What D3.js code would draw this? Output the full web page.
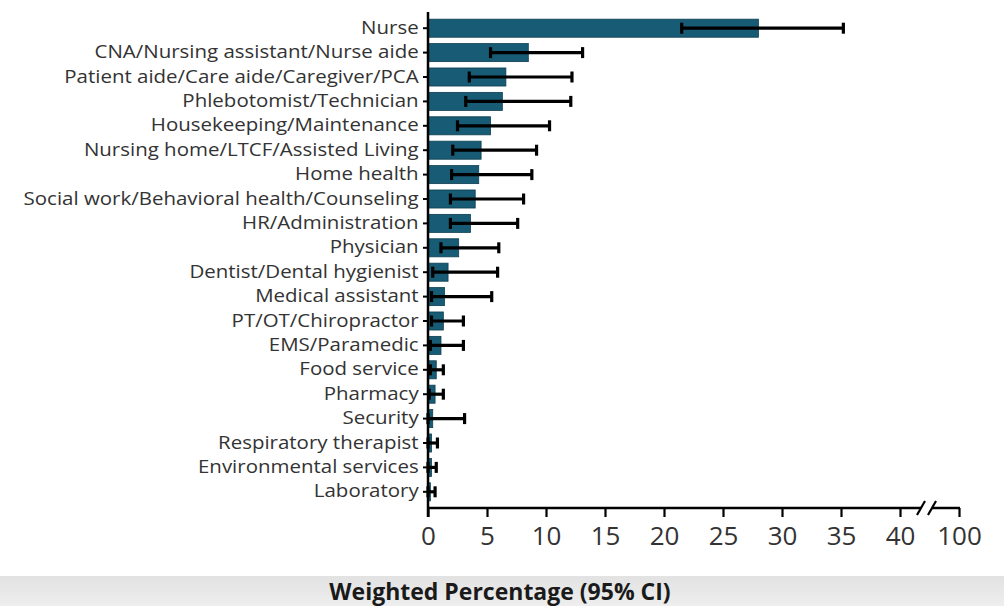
<!DOCTYPE html>
<html>
<head>
<meta charset="utf-8">
<script src="https://cdn.jsdelivr.net/npm/d3@7"></script>
<style>
  body { margin: 0; background: #fff; }
  svg { display: block; }
  text { font-family: "Open Sans", "DejaVu Sans", sans-serif; }
</style>
</head>
<body>
<svg width="1004" height="606"></svg>
<script>
// occupations, weighted percentage and 95% CI
const categories = [
    "Nurse", "CNA/Nursing assistant/Nurse aide", "Patient aide/Care aide/Caregiver/PCA",
    "Phlebotomist/Technician", "Housekeeping/Maintenance", "Nursing home/LTCF/Assisted Living",
    "Home health", "Social work/Behavioral health/Counseling", "HR/Administration", "Physician",
    "Dentist/Dental hygienist", "Medical assistant", "PT/OT/Chiropractor", "EMS/Paramedic",
    "Food service", "Pharmacy", "Security", "Respiratory therapist", "Environmental services",
    "Laboratory"
];
const values = [28.0, 8.5, 6.6, 6.3, 5.3, 4.5, 4.3, 4.0, 3.6, 2.6, 1.7, 1.4, 1.3, 1.1, 0.7, 0.6, 0.4, 0.3, 0.3, 0.2];
const ciLow  = [21.5, 5.3, 3.5, 3.2, 2.5, 2.1, 2.0, 1.9, 1.9, 1.1, 0.4, 0.3, 0.3, 0.2, 0.2, 0.1, 0.0, 0.0, 0.0, 0.0];
const ciHigh = [35.2, 13.1, 12.2, 12.1, 10.3, 9.2, 8.8, 8.1, 7.6, 6.0, 5.9, 5.4, 3.0, 3.0, 1.3, 1.3, 3.1, 0.8, 0.7, 0.6];
const xTicks = [0, 5, 10, 15, 20, 25, 30, 35, 40, 100];

const rows = categories.map((c, i) => ({ name: c, v: values[i], lo: ciLow[i], hi: ciHigh[i] }));

const svg = d3.select("svg");

// grey strip at the bottom (slide background)
const grad = svg.append("defs").append("linearGradient")
    .attr("id", "band").attr("x1", 0).attr("x2", 0).attr("y1", 0).attr("y2", 1);
grad.append("stop").attr("offset", "0%").attr("stop-color", "#e2e2e2");
grad.append("stop").attr("offset", "100%").attr("stop-color", "#eeeeee");
svg.append("rect")
    .attr("x", 0).attr("y", 576).attr("width", 1004).attr("height", 30)
    .attr("fill", "url(#band)");

const x0 = 428, yTop = 12, yBottom = 508;

// broken axis: 0-40 linear, then jump to 100
const x = d3.scaleLinear().domain([0, 40, 100]).range([x0, 900, 959]);
const y = d3.scaleBand().domain(categories).range([16, 504]).paddingInner(0.26).paddingOuter(0.13);

const plot = svg.append("g");

// bars
plot.selectAll("rect.bar")
    .data(rows)
    .join("rect")
    .attr("class", "bar")
    .attr("x", x(0))
    .attr("y", d => y(d.name))
    .attr("width", d => x(d.v) - x(0))
    .attr("height", y.bandwidth())
    .attr("fill", "#175b74")
    .attr("stroke", "#0f3f52")
    .attr("stroke-width", 0.8);

// error bars
const err = plot.append("g").attr("stroke", "#000").attr("stroke-width", 3.2);
err.selectAll("line.whisker")
    .data(rows)
    .join("line")
    .attr("x1", d => x(d.lo))
    .attr("x2", d => x(d.hi))
    .attr("y1", d => y(d.name) + y.bandwidth() / 2)
    .attr("y2", d => y(d.name) + y.bandwidth() / 2);
err.selectAll("line.capHi")
    .data(rows)
    .join("line")
    .attr("x1", d => x(d.hi)).attr("x2", d => x(d.hi))
    .attr("y1", d => y(d.name) + y.bandwidth() / 2 - 5.5)
    .attr("y2", d => y(d.name) + y.bandwidth() / 2 + 5.5);
err.selectAll("line.capLo")
    .data(rows)
    .join("line")
    .attr("x1", d => x(d.lo)).attr("x2", d => x(d.lo))
    .attr("y1", d => y(d.name) + y.bandwidth() / 2 - 5.5)
    .attr("y2", d => y(d.name) + y.bandwidth() / 2 + 5.5);

// y axis
const yAxis = svg.append("g")
    .attr("transform", `translate(${x0},0)`)
    .call(d3.axisLeft(y).tickSize(5).tickPadding(3));
yAxis.select(".domain").remove();
yAxis.append("line")
    .attr("x1", 0).attr("x2", 0).attr("y1", yTop).attr("y2", yBottom + 9)
    .attr("stroke", "#000").attr("stroke-width", 2.5);
yAxis.selectAll(".tick line").attr("stroke", "#000").attr("stroke-width", 2);
// labels are a condensed face in the original: widen a smaller font instead
yAxis.selectAll(".tick text")
    .attr("fill", "#333")
    .attr("transform", "scale(1.17,1)")
    .style("font-size", "17.5px");

// x axis with break
const xAxis = svg.append("g")
    .attr("transform", `translate(0,${yBottom})`)
    .call(d3.axisBottom(x).tickValues(xTicks).tickSize(9).tickPadding(10).tickFormat(d3.format("d")));
xAxis.select(".domain").remove();
xAxis.selectAll(".tick line").attr("stroke", "#000").attr("stroke-width", 2.2);
xAxis.selectAll(".tick text")
    .attr("fill", "#333")
    .style("font-size", "26px");

const brk1 = 921, brk2 = 932;
xAxis.append("line")
    .attr("x1", x0).attr("x2", brk1).attr("y1", 0).attr("y2", 0)
    .attr("stroke", "#000").attr("stroke-width", 2.5);
xAxis.append("line")
    .attr("x1", brk2).attr("x2", x(100) + 1).attr("y1", 0).attr("y2", 0)
    .attr("stroke", "#000").attr("stroke-width", 2.5);
xAxis.selectAll("line.brk")
    .data([brk1, brk2])
    .join("line")
    .attr("class", "brk")
    .attr("x1", d => d - 4).attr("x2", d => d + 4)
    .attr("y1", 7).attr("y2", -7)
    .attr("stroke", "#000").attr("stroke-width", 2.2);

// axis title
svg.append("text")
    .attr("x", 500)
    .attr("y", 600)
    .attr("text-anchor", "middle")
    .attr("fill", "#1a1a1a")
    .style("font-size", "23px")
    .style("font-weight", "bold")
    .text("Weighted Percentage (95% CI)");
</script>
</body>
</html>
